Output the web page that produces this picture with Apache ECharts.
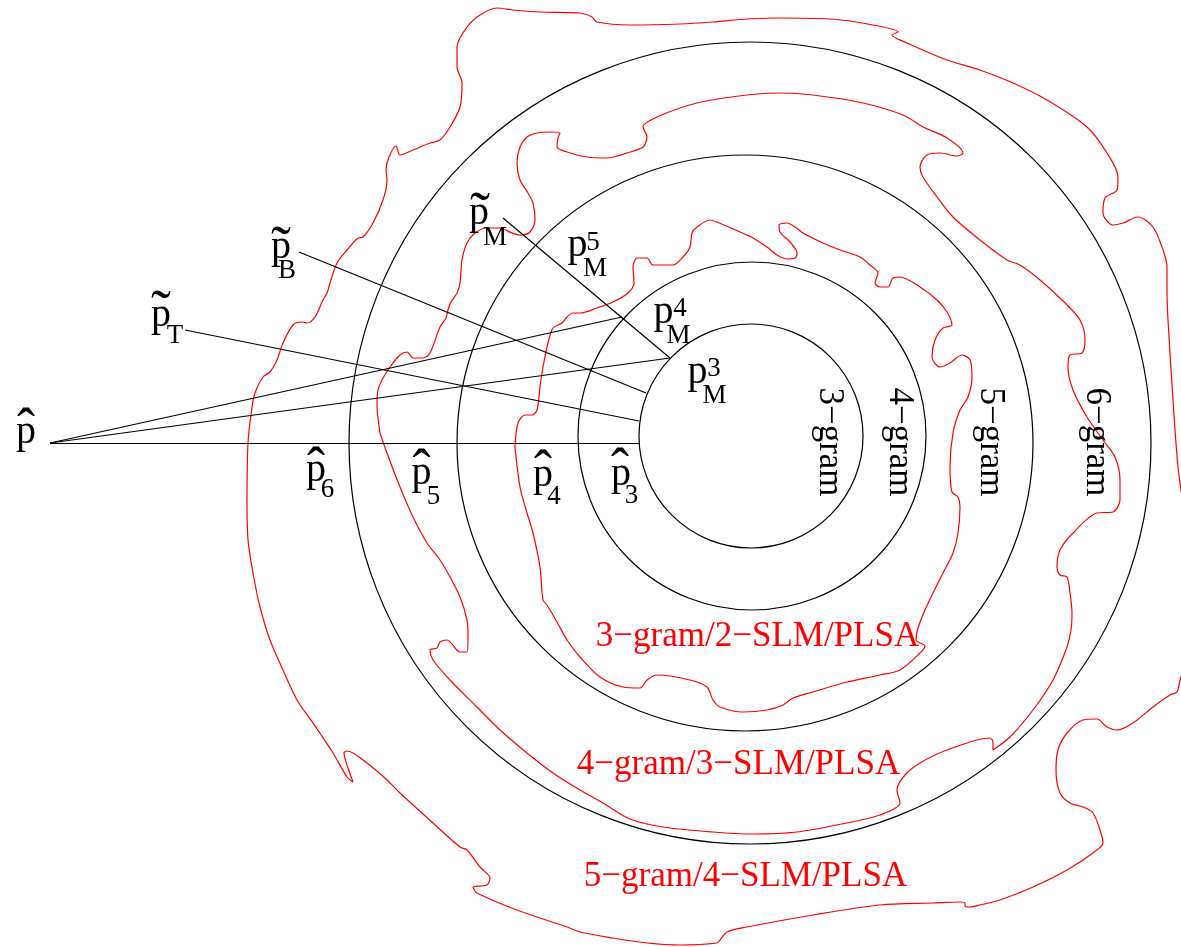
<!DOCTYPE html>
<html>
<head>
<meta charset="utf-8">
<title>n-gram / SLM / PLSA nested model spaces</title>
<script src="https://cdn.jsdelivr.net/npm/echarts@6/dist/echarts.min.js"></script>
<style>
  html, body { margin: 0; padding: 0; background: #ffffff; }
  #chart { width: 1181px; height: 947px; }
</style>
</head>
<body>
<div id="chart"></div>
<script>
// ---------------------------------------------------------------------------
// Geometry of the diagram (in the plane's own units, y grows downwards)
// ---------------------------------------------------------------------------

// n-gram model spaces: concentric-ish circles
const ringNames   = ['3\u2212gram', '4\u2212gram', '5\u2212gram', '6\u2212gram'];
const ringCentreX = [751, 752, 745, 750];
const ringCentreY = [436, 436, 443, 443];
const ringRadius  = [112, 174, 288, 401];

// true distribution estimate and its projections
const pHat = [50, 443];
const projections = [
  [[50, 443], [640, 443]],   // p̂ -> p̂3 (through p̂6, p̂5, p̂4)
  [[50, 443], [622, 317]],   // p̂ -> p_M^4
  [[50, 443], [670, 358]],   // p̂ -> p_M^3
  [[185, 330], [639, 421]],  // p̃_T -> 3-gram boundary
  [[299, 252], [646, 393]],  // p̃_B -> 3-gram boundary
  [[503, 218], [670, 358]]   // p̃_M -> p_M^3
];

// composite model spaces (red, irregular closed outlines)
const slmNames = ['3\u2212gram/2\u2212SLM/PLSA', '4\u2212gram/3\u2212SLM/PLSA', '5\u2212gram/4\u2212SLM/PLSA'];

const slm2 = [
  [515,447],[518,423],[525,415],[532,415],[537,410],[540,387],[543,367],[548,343],[553,328],[562,323],
  [567,317],[573,313],[580,313],[597,308],[613,302],[628,293],[634,283],[633,267],[637,258],[647,258],
  [653,265],[673,265],[683,257],[690,247],[692,233],[697,227],[710,220],[717,222],[740,232],[753,238],
  [767,247],[777,255],[787,259],[795,258],[797,253],[790,242],[780,232],[779,225],[787,223],[795,227],
  [803,233],[823,243],[840,250],[860,257],[870,265],[878,273],[875,283],[880,287],[888,287],[893,278],
  [900,277],[920,287],[937,300],[947,312],[952,325],[943,328],[935,340],[932,357],[940,367],[950,363],
  [962,355],[970,360],[972,377],[968,397],[960,410],[953,433],[950,467],[952,492],[958,497],[960,507],
  [958,533],[953,553],[943,573],[933,593],[925,610],[918,628],[916,640],[925,646],[920,653],[900,670],
  [880,675],[847,682],[813,692],[793,698],[783,705],[767,710],[743,712],[720,707],[713,700],[707,687],
  [690,680],[657,675],[647,680],[640,688],[623,687],[600,677],[580,657],[567,640],[557,622],[547,605],
  [543,600],[540,567],[533,533],[527,513],[520,487],[515,447]
];

const slm3 = [
  [380,433],[377,405],[378,390],[382,380],[390,367],[400,355],[407,352],[413,358],[423,358],[430,353],
  [440,327],[446,318],[448,310],[451,302],[457,293],[460,283],[462,260],[467,243],[475,233],[487,228],
  [500,228],[512,233],[520,235],[530,232],[535,220],[533,203],[528,193],[520,180],[517,163],[520,147],
  [527,137],[537,133],[552,132],[560,133],[558,138],[557,147],[567,152],[587,157],[607,158],[627,153],
  [643,147],[647,137],[643,127],[657,117],[697,103],[747,95],[780,93],[813,95],[863,103],[903,115],
  [923,127],[947,138],[963,153],[957,156],[940,153],[927,155],[920,167],[923,177],[937,197],[953,217],
  [980,240],[1007,260],[1020,265],[1040,280],[1062,300],[1080,320],[1085,340],[1082,353],[1070,355],[1068,367],
  [1073,390],[1087,417],[1103,440],[1115,457],[1120,480],[1120,500],[1113,512],[1097,513],[1073,533],[1060,550],
  [1057,567],[1060,575],[1067,577],[1070,593],[1072,613],[1071,630],[1067,647],[1053,680],[1033,710],[1010,737],
  [993,750],[993,742],[990,738],[947,750],[920,763],[905,775],[897,790],[900,803],[880,815],[847,823],
  [797,832],[753,834],[713,832],[663,827],[630,819],[603,803],[580,790],[553,773],[527,753],[500,730],
  [477,707],[450,680],[433,660],[430,650],[437,648],[440,642],[447,640],[460,652],[467,652],[468,637],
  [467,620],[460,597],[450,577],[440,560],[427,543],[413,517],[400,487],[387,453],[380,433]
];

const slm4 = [
  [247,500],[248,443],[252,407],[255,393],[263,377],[270,372],[277,360],[283,343],[293,325],[302,322],
  [307,323],[315,317],[323,300],[327,293],[330,283],[337,263],[347,250],[358,238],[363,237],[373,223],
  [383,200],[387,180],[386,170],[389,157],[396,146],[400,155],[413,150],[430,143],[440,140],[450,127],
  [460,107],[462,83],[457,67],[457,47],[467,27],[480,15],[497,8],[513,10],[540,12],[580,13],
  [592,17],[597,22],[630,25],[680,24],[713,22],[747,19],[780,18],[830,19],[873,25],[898,32],
  [892,35],[907,43],[947,60],[980,70],[1013,83],[1047,100],[1087,127],[1107,153],[1118,177],[1117,190],
  [1105,198],[1103,213],[1113,225],[1123,223],[1138,217],[1153,227],[1163,250],[1167,267],[1167,290],[1168,320],
  [1173,400],[1178,467],[1184,510],[1194,580],[1190,650],[1180,680],[1177,692],[1170,695],[1153,707],[1133,723],
  [1117,730],[1107,727],[1097,719],[1083,720],[1067,733],[1058,750],[1056,770],[1060,793],[1070,803],[1083,807],
  [1093,813],[1100,830],[1103,843],[1093,853],[1067,870],[1033,887],[1000,900],[980,905],[970,907],[965,906],
  [965,903],[960,902],[933,903],[880,905],[813,915],[747,927],[727,932],[720,940],[717,943],[680,945],
  [647,943],[613,938],[580,932],[567,927],[517,910],[477,893],[473,887],[487,885],[490,878],[480,867],
  [467,850],[460,847],[433,823],[400,793],[387,780],[367,763],[347,751],[344,753],[348,768],[353,782],
  [347,777],[333,753],[313,723],[297,700],[283,670],[270,640],[260,607],[253,573],[248,540],[247,500]
];

// point names: accent, base, subscript, superscript
const pointBase   = ['p', 'p', 'p', 'p', 'p', 'p', 'p', 'p', 'p', 'p', 'p'];
const pointAccent = ['hat', 'tilde', 'tilde', 'tilde', '', '', '', 'hat', 'hat', 'hat', 'hat'];
const pointSub    = ['', 'T', 'B', 'M', 'M', 'M', 'M', '6', '5', '4', '3'];
const pointSup    = ['', '', '', '', '5', '4', '3', '', '', '', ''];

// ---------------------------------------------------------------------------
// Label layout
// ---------------------------------------------------------------------------
const SERIF = '"Liberation Serif", "Times New Roman", Times, serif';
const P_SIZE = 40, SCRIPT_SIZE = 27, HAT_SIZE = 54, TILDE_SIZE = 60, NAME_SIZE = 35, RED_SIZE = 35;
const MIDLINE = 0.3375;  // canvas 'middle' line above the baseline, in em

// base glyph: ink centre x, baseline y
const pointAt = [
  [26, 446], [161, 329], [281, 261], [479, 227], [577.5, 259], [663.5, 326], [697.5, 386],
  [316, 484], [421.5, 487], [543, 489], [621, 488]
];
// accent ink centre
const accentAt = [
  [26, 418], [161, 299], [281, 235], [480, 201], null, null, null,
  [316, 457], [421.5, 459.5], [543, 460], [620, 458.5]
];
// subscript / superscript ink centres
const subAt = [
  null, [175, 336], [287, 271], [495, 238], [595, 269], [678.5, 335.5], [714.5, 396],
  [327.5, 490], [433.5, 497], [554, 497], [631.5, 496]
];
const supAt = [null, null, null, null, [593, 243], [680, 308.5], [714, 369], null, null, null, null];

const ringNameAt = [[825, 442], [895, 442], [986, 442], [1092.5, 442]];
const slmNameAt  = [[757.5, 649], [738.5, 777], [745.5, 889]];   // centre x, baseline

// ---------------------------------------------------------------------------
// Build text items
// ---------------------------------------------------------------------------
const texts = [];
function addText(str, x, y, size, color, rotation) {
  texts.push({ str, x, y, size, color: color || '#000', rotation: rotation || 0 });
}

pointBase.forEach((b, i) => {
  const [px, py] = pointAt[i];
  addText(b, px, py - MIDLINE * P_SIZE, P_SIZE);
  if (pointAccent[i]) {
    const isHat = pointAccent[i] === 'hat';
    const ch = isHat ? '\u02C6' : '\u02DC';
    const size = isHat ? HAT_SIZE : TILDE_SIZE;
    const [ax, ay] = accentAt[i];
    addText(ch, ax, ay + (0.59 - MIDLINE) * size, size);
  }
  if (pointSub[i]) addText(pointSub[i], subAt[i][0], subAt[i][1], SCRIPT_SIZE);
  if (pointSup[i]) addText(pointSup[i], supAt[i][0], supAt[i][1], SCRIPT_SIZE);
});

ringNames.forEach((n, i) => {
  // reads top-to-bottom; letter tops face right
  addText(n, ringNameAt[i][0] + 0.107 * NAME_SIZE, ringNameAt[i][1], NAME_SIZE, '#000', -Math.PI / 2);
});

slmNames.forEach((n, i) => {
  addText(n, slmNameAt[i][0], slmNameAt[i][1] - MIDLINE * RED_SIZE, RED_SIZE, '#ff0000');
});

// ---------------------------------------------------------------------------
// Chart
// ---------------------------------------------------------------------------
const chart = echarts.init(document.getElementById('chart'), null, { renderer: 'canvas' });

const series = [];

// red composite-model outlines
[slm2, slm3, slm4].forEach((pts, i) => {
  series.push({
    name: slmNames[i],
    type: 'line',
    data: pts,
    smooth: 0.3,
    symbol: 'none',
    silent: true,
    clip: true,
    lineStyle: { color: '#ff0000', width: 1.2 },
    z: 2
  });
});

// n-gram circles
series.push({
  type: 'custom',
  silent: true,
  clip: false,
  data: ringCentreX.map((x, i) => [x, ringCentreY[i], ringRadius[i]]),
  renderItem(params, api) {
    const c = api.coord([api.value(0), api.value(1)]);
    const r = api.size([api.value(2), api.value(2)])[0];
    return {
      type: 'circle',
      shape: { cx: c[0], cy: c[1], r },
      style: { fill: 'none', stroke: '#000', lineWidth: 1.2 }
    };
  },
  z: 3
});

// projection segments
series.push({
  type: 'lines',
  coordinateSystem: 'cartesian2d',
  silent: true,
  data: projections.map(seg => ({ coords: seg })),
  lineStyle: { color: '#000', width: 1.2, opacity: 1 },
  z: 3
});

// all labels
series.push({
  type: 'custom',
  silent: true,
  clip: false,
  data: texts.map(t => [t.x, t.y]),
  renderItem(params, api) {
    const t = texts[params.dataIndex];
    const p = api.coord([api.value(0), api.value(1)]);
    return {
      type: 'text',
      x: p[0],
      y: p[1],
      rotation: t.rotation,
      style: {
        text: t.str,
        fontFamily: SERIF,
        fontSize: t.size,
        fill: t.color,
        align: 'center',
        verticalAlign: 'middle'
      }
    };
  },
  z: 5
});

chart.setOption({
  animation: false,
  backgroundColor: '#ffffff',
  grid: { left: 0, right: 0, top: 0, bottom: 0, containLabel: false },
  xAxis: { type: 'value', min: 0, max: 1181, show: false },
  yAxis: { type: 'value', min: 0, max: 947, inverse: true, show: false },
  series
});
</script>
</body>
</html>
